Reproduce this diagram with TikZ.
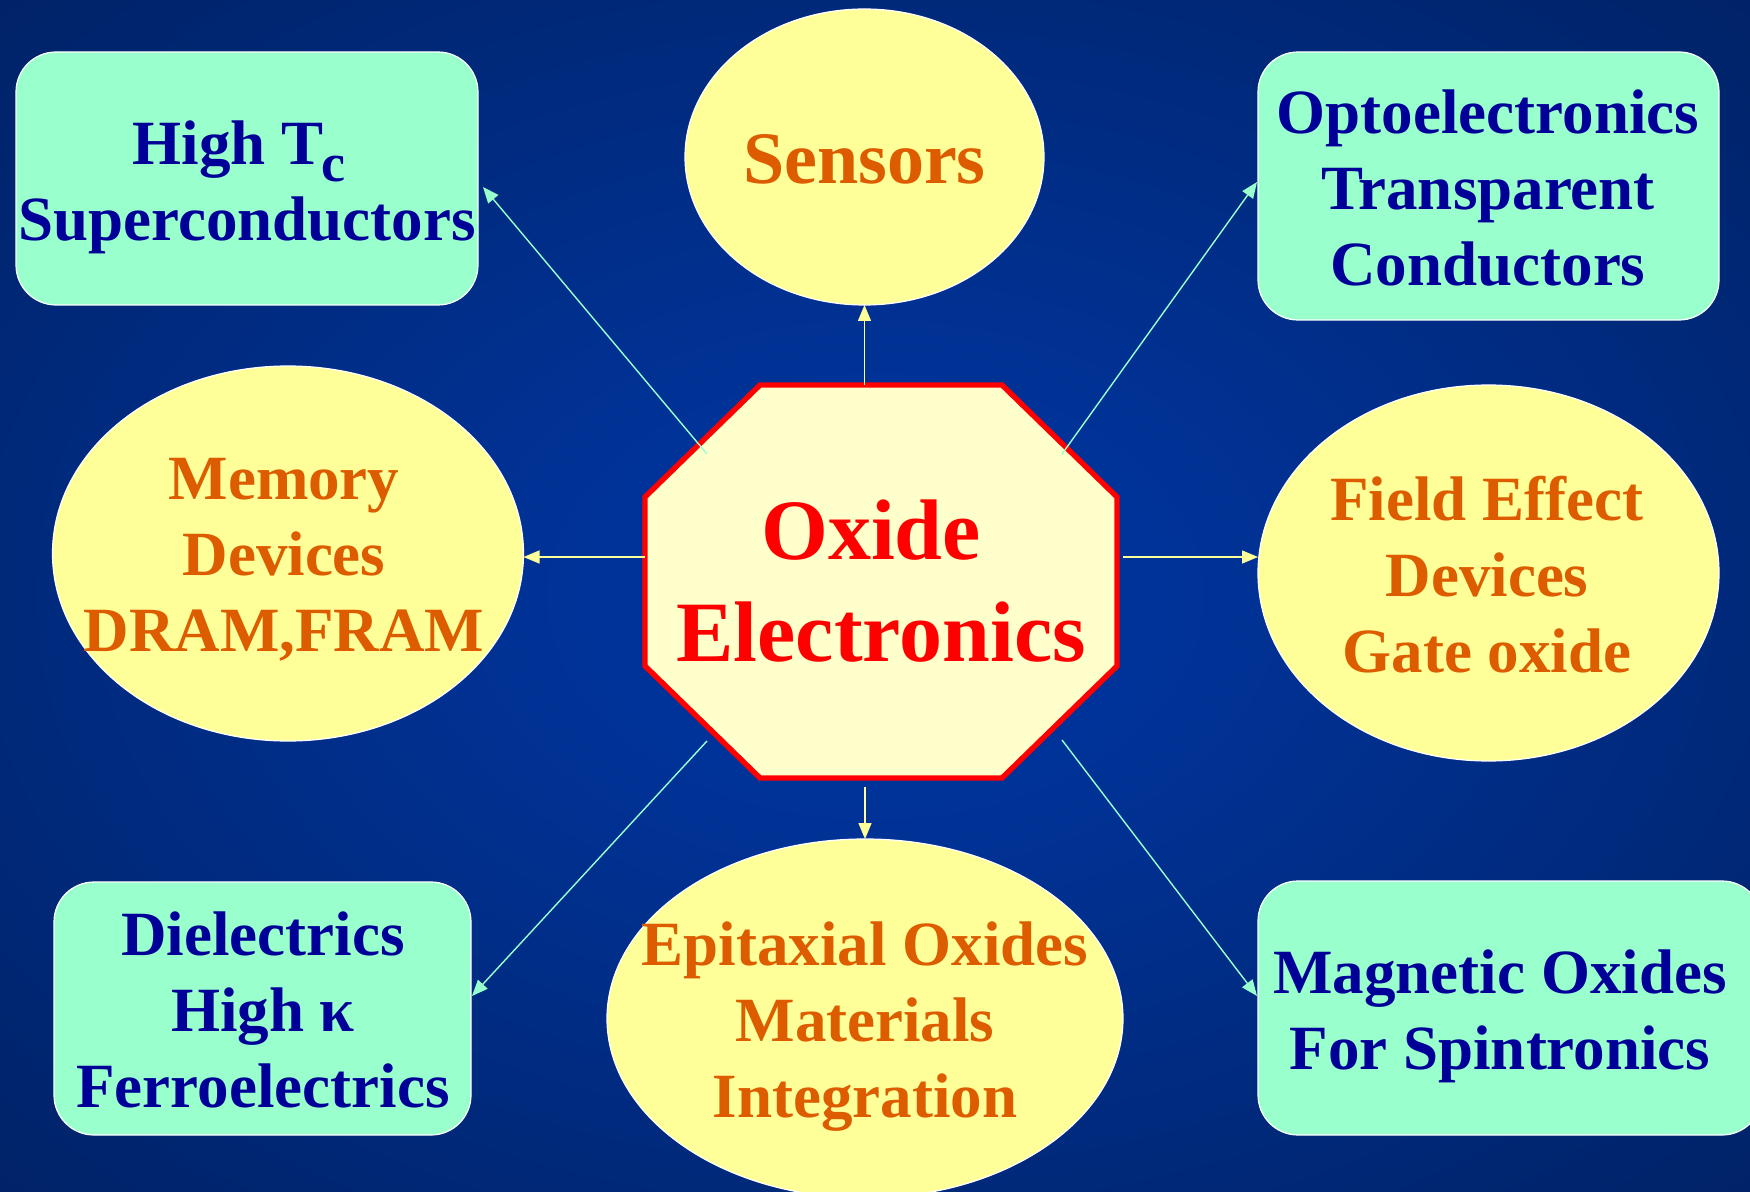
\documentclass[tikz,border=0pt]{standalone}
\usepackage{fontspec}
\setmainfont{Liberation Serif}
\usetikzlibrary{arrows.meta,shapes.geometric,calc}

\definecolor{bgin}{HTML}{003399}
\definecolor{bgout}{HTML}{001A4D}
\definecolor{ellfill}{HTML}{FFFF99}
\definecolor{boxfill}{HTML}{99FFCC}
\definecolor{octfill}{HTML}{FFFFCC}
\definecolor{orangetxt}{HTML}{DD5C00}
\definecolor{bluetxt}{HTML}{000099}
\definecolor{octred}{HTML}{FF0000}

\pgfdeclareradialshading{bgglow}{\pgfpoint{0bp}{0bp}}{%
  color(0bp)=(bgin); color(8bp)=(bgin); color(50bp)=(bgout); color(100bp)=(bgout)}

\tikzset{
  bubble/.style={ellipse, draw=white, line width=0.6pt, fill=ellfill, inner sep=0pt, outer sep=0pt},
  card/.style={rectangle, rounded corners=20pt, draw=white, line width=0.6pt, fill=boxfill, inner sep=0pt, outer sep=0pt},
  words/.style={align=center, inner sep=0pt, font=\bfseries\fontsize{31.5}{38}\selectfont},
  orangewords/.style={words, text=orangetxt},
  bluewords/.style={words, text=bluetxt},
  yellowlink/.style={draw=ellfill, line width=0.7pt, -{Triangle[length=8pt,width=6.5pt]}},
  mintlink/.style={draw=boxfill, line width=0.7pt, -{Triangle[length=8pt,width=6.5pt]}},
  octline/.style={draw=octred, fill=octfill, line width=2.7pt, line join=miter},
}

\begin{document}
\begin{tikzpicture}[x=0.5pt,y=-0.5pt]
  % page and background glow
  \useasboundingbox (0,0) rectangle (1750,1192);
  \shade[shading=bgglow] (0,0) rectangle (1750,1192);

  \begin{scope}
    \clip (0,0) rectangle (1750,1192);

    % central octagon
    \coordinate (octc) at (881,581.5);
    \draw[octline] ($(octc)+(-236,-84.5)$) -- ($(octc)+(-121,-196.5)$)
      -- ($(octc)+(121,-196.5)$) -- ($(octc)+(236,-84.5)$)
      -- ($(octc)+(236,84.5)$) -- ($(octc)+(121,196.5)$)
      -- ($(octc)+(-121,196.5)$) -- ($(octc)+(-236,84.5)$) -- cycle;
    \node[align=center, inner sep=0pt, outer sep=0pt, text=octred,
          minimum width=236pt, minimum height=196.5pt,
          font=\bfseries\fontsize{43}{51}\selectfont] (oct) at (octc) {Oxide\hspace*{10pt}\\Electronics};

    % ellipses
    \node[bubble, minimum width=179.5pt, minimum height=148pt] (sens) at (864.5,157) {};
    \node[bubble, minimum width=235.5pt, minimum height=187.5pt] (mem) at (288,553.5) {};
    \node[bubble, minimum width=230.5pt, minimum height=188pt] (field) at (1488.5,573) {};
    \node[bubble, minimum width=258pt, minimum height=179.5pt] (epi) at (865,1018.5) {};

    % rounded boxes
    \node[card, minimum width=231pt, minimum height=126.5pt] (hitc) at (247,178.5) {};
    \node[card, minimum width=230.5pt, minimum height=134pt] (opto) at (1488.5,186) {};
    \node[card, minimum width=208.5pt, minimum height=126.5pt] (diel) at (262.5,1008.5) {};
    \node[card, minimum width=252pt, minimum height=127pt] (mag) at (1510,1008) {};

    % labels
    \node[orangewords, font=\bfseries\fontsize{37}{44}\selectfont] (sens-text) at (864.5,159.5) {Sensors};
    \node[orangewords] (mem-text) at (284,560) {Memory\\Devices\\DRAM,FRAM};
    \node[orangewords] (field-text) at (1487,574.5) {Field Effect\\Devices\\Gate oxide};
    \node[orangewords] (epi-text) at (865,1027) {Epitaxial Oxides\\Materials\\Integration};
    \node[bluewords] (hitc-text) at (247,187)
      {High T\kern-1pt\raisebox{-8.5pt}{\fontsize{27}{27}\selectfont c}\hspace*{8pt}\\Superconductors};
    \node[bluewords] (opto-text) at (1488,188.5) {Optoelectronics\\Transparent\\Conductors};
    \node[bluewords] (diel-text) at (263,1009.5) {Dielectrics\\High κ\\Ferroelectrics};
    \node[bluewords] (mag-text) at (1500,1016.5) {Magnetic Oxides\\For Spintronics};

    % straight connectors
    \draw[yellowlink] (oct.north -| sens.south) -- (sens.south);
    \draw[yellowlink] ($(oct.south -| epi.north)+(0,9)$) -- (epi.north);
    \coordinate (leftstart) at ($(oct.west)+(0,-24.5)$);
    \draw[yellowlink] (leftstart) -- (mem.east |- leftstart);
    \draw[yellowlink] ($(oct.east)+(6,-24.5)$) -- ($(field.west)+(0,-16)$);

    % diagonal connectors
    \draw[mintlink] ($(octc)+(-174,-127.5)$) -- ($(hitc.east)+(5,8.5)$);
    \draw[mintlink] ($(octc)+(181,-127.5)$) -- ($(opto.west)+(-1,-4)$);
    \draw[mintlink] ($(octc)+(-174,159.5)$) -- ($(diel.east)+(1,-12.5)$);
    \draw[mintlink] ($(octc)+(181,158.5)$) -- ($(mag.west)+(-1,-12)$);
  \end{scope}
\end{tikzpicture}
\end{document}
